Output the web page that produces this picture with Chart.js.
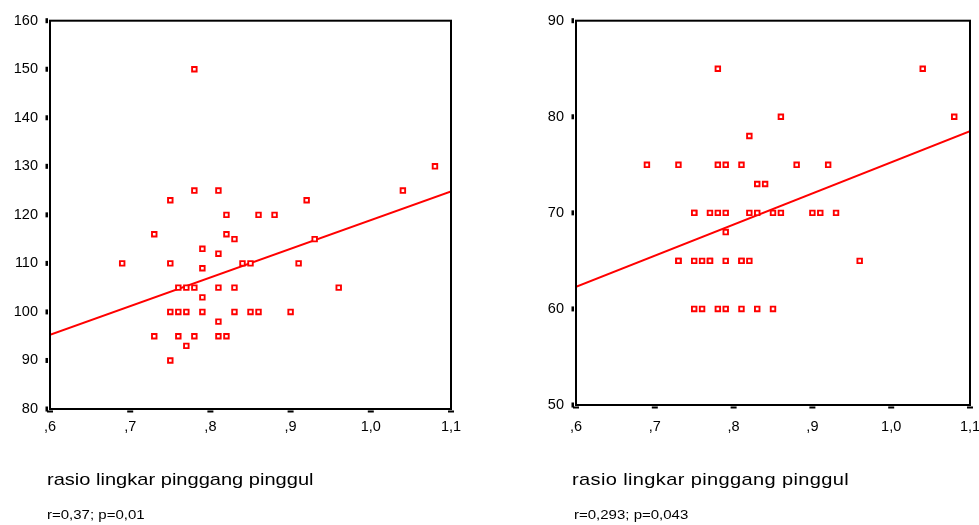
<!DOCTYPE html>
<html>
<head>
<meta charset="utf-8">
<script src="https://cdn.jsdelivr.net/npm/chart.js@4.4.1/dist/chart.umd.min.js"></script>
<style>
    html, body { margin: 0; padding: 0; background: #fff; overflow: hidden; }
    body { width: 979px; height: 525px; position: relative; font-family: "Liberation Sans", Arial, sans-serif; color: #000; }
    canvas { position: absolute; top: 0; }
    #chartA { left: 0; }
    #chartB { left: 520px; }
    .lbl { position: absolute; white-space: nowrap; transform-origin: 0 0; }
    .title { font-size: 17px; line-height: 17px; top: 471px; transform: scaleX(1.18); }
    .stat { font-size: 12px; line-height: 12px; top: 509px; transform: scaleX(1.25); }
</style>
</head>
<body>
<canvas id="chartA" width="470" height="525"></canvas>
<canvas id="chartB" width="459" height="525"></canvas>
<div class="lbl title" style="left:47px">rasio lingkar pinggang pinggul</div>
<div class="lbl stat" style="left:47px">r=0,37; p=0,01</div>
<div class="lbl title" style="left:572px; letter-spacing:0.3px">rasio lingkar pinggang pinggul</div>
<div class="lbl stat" style="left:574px">r=0,293; p=0,043</div>
<script>
// x tick labels (same for both charts)
let xTickLabels = [',6', ',7', ',8', ',9', '1,0', '1,1'];

// left chart
let rasioA = [0.78, 0.75, 0.78, 0.81, 0.92, 1.04, 1.08, 0.82, 0.86, 0.88,
    0.73, 0.82, 0.83, 0.93, 0.79, 0.81, 0.69, 0.75, 0.84, 0.85,
    0.91, 0.79, 0.76, 0.77, 0.78, 0.81, 0.83, 0.96, 0.79, 0.75,
    0.76, 0.77, 0.79, 0.83, 0.85, 0.86, 0.90, 0.81, 0.73, 0.76,
    0.78, 0.81, 0.82, 0.77, 0.75];
let valuesA = [150, 123, 125, 125, 123, 125, 130, 120, 120, 120,
    116, 116, 115, 115, 113, 112, 110, 110, 110, 110,
    110, 109, 105, 105, 105, 105, 105, 105, 103, 100,
    100, 100, 100, 100, 100, 100, 100, 98, 95, 95,
    95, 95, 95, 93, 90];
let fitA = [95.3, 124.8];

// right chart
let rasioB = [0.78, 1.04, 0.86, 1.08, 0.82,
    0.69, 0.73, 0.78, 0.79, 0.81, 0.88, 0.92,
    0.83, 0.84,
    0.75, 0.75, 0.77, 0.78, 0.79, 0.82, 0.83, 0.85, 0.86, 0.90, 0.91, 0.93,
    0.79,
    0.73, 0.73, 0.75, 0.76, 0.77, 0.77, 0.79, 0.81, 0.81, 0.82, 0.96,
    0.75, 0.76, 0.78, 0.79, 0.81, 0.83, 0.85];
let valuesB = [85, 85, 80, 80, 78,
    75, 75, 75, 75, 75, 75, 75,
    73, 73,
    70, 70, 70, 70, 70, 70, 70, 70, 70, 70, 70, 70,
    68,
    65, 65, 65, 65, 65, 65, 65, 65, 65, 65, 65,
    60, 60, 60, 60, 60, 60, 60];
let fitB = [62.3, 78.5];

let fitX = [0.6, 1.1];

Chart.defaults.font.family = '"Liberation Sans", Arial, sans-serif';
Chart.defaults.font.size = 14.5;
Chart.defaults.color = '#000';

// frame round the plot and the small SPSS style tick marks
let framePlugin = {
    id: 'frame',
    afterDraw(chart) {
        let ctx = chart.ctx;
        let a = chart.chartArea;
        ctx.save();
        ctx.strokeStyle = '#000';
        ctx.lineWidth = 2;
        ctx.strokeRect(a.left, a.top, a.right - a.left, a.bottom - a.top);
        ctx.fillStyle = '#000';
        chart.scales.y.ticks.forEach(t => {
            let y = chart.scales.y.getPixelForValue(t.value);
            ctx.fillRect(a.left - 4.5, y - 2.5, 2.5, 5);
        });
        chart.scales.x.ticks.forEach(t => {
            let x = chart.scales.x.getPixelForValue(t.value);
            ctx.fillRect(x - 3, a.bottom + 1.5, 6, 2);
        });
        ctx.restore();
    }
};

function makeChart(id, xs, ys, fit, yMin, yMax, yWidth, xHeight, padRight, xPad) {
    return new Chart(document.getElementById(id), {
        data: {
            datasets: [{
                type: 'scatter',
                data: xs.map((x, i) => ({x: x, y: ys[i]})),
                pointStyle: 'rect',
                radius: 3.2,
                borderWidth: 1.9,
                borderColor: '#ff0000',
                backgroundColor: '#ffffff'
            }, {
                type: 'line',
                data: fitX.map((x, i) => ({x: x, y: fit[i]})),
                borderColor: '#ff0000',
                borderWidth: 2,
                pointRadius: 0
            }]
        },
        options: {
            responsive: false,
            animation: false,
            layout: { padding: { top: 19, right: padRight, left: 0, bottom: 0 } },
            plugins: { legend: { display: false }, tooltip: { enabled: false } },
            scales: {
                x: {
                    type: 'linear',
                    min: 0.6,
                    max: 1.1,
                    grid: { display: false, drawTicks: false },
                    border: { display: false },
                    ticks: {
                        stepSize: 0.1,
                        padding: xPad,
                        maxRotation: 0,
                        callback: (v, i) => xTickLabels[i]
                    },
                    afterFit: s => { s.height = xHeight; s.paddingRight = 0; s.paddingLeft = 0; }
                },
                y: {
                    min: yMin,
                    max: yMax,
                    grid: { display: false, drawTicks: false },
                    border: { display: false },
                    ticks: { stepSize: 10, padding: 12 },
                    afterFit: s => { s.width = yWidth; }
                }
            }
        },
        plugins: [framePlugin]
    });
}

makeChart('chartA', rasioA, valuesA, fitA, 80, 160, 50, 116, 19, 9);
makeChart('chartB', rasioB, valuesB, fitB, 50, 90, 56, 120, 9, 13);
</script>
</body>
</html>
